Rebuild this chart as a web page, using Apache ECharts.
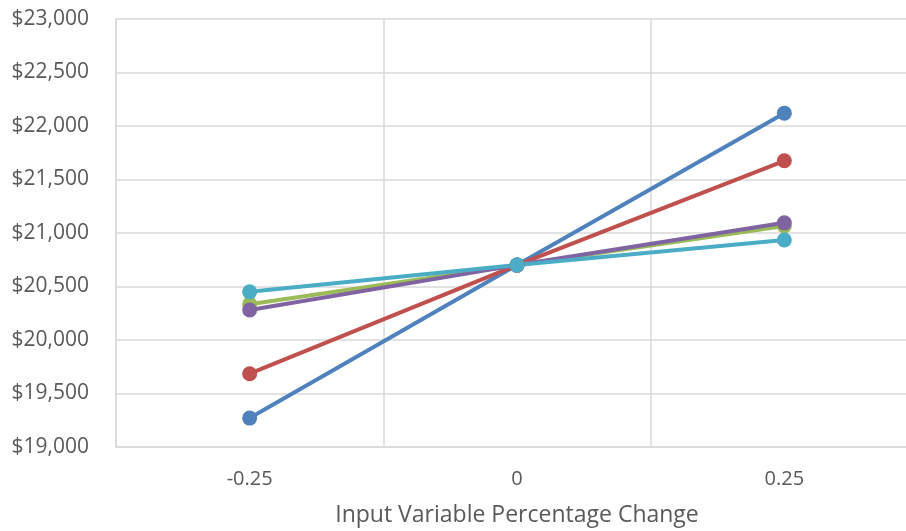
<!DOCTYPE html>
<html>
<head>
<meta charset="utf-8">
<script src="https://cdn.jsdelivr.net/npm/echarts@6/dist/echarts.min.js"></script>
<style>
  html, body { margin: 0; padding: 0; background: #fff; }
  #main { width: 906px; height: 531px; }
</style>
</head>
<body>
<div id="main"></div>
<script>
var myChart = echarts.init(document.getElementById('main'));

var categories = ['-0.25', '0', '0.25'];
var blueData = [19270, 20700, 22120];
var redData = [19685, 20700, 21675];
var greenData = [20335, 20700, 21065];
var purpleData = [20280, 20700, 21095];
var cyanData = [20450, 20700, 20935];

var colors = ['#4f81bd', '#c0504d', '#9bbb59', '#8064a2', '#4bacc6'];
var seriesData = [blueData, redData, greenData, purpleData, cyanData];

var series = [];
for (var i = 0; i < seriesData.length; i++) {
	series.push({
		type: 'line',
		data: seriesData[i],
		symbol: 'circle',
		symbolSize: 15,
		lineStyle: { width: 4, color: colors[i] },
		itemStyle: { color: colors[i] },
		animation: false
	});
}

option = {
	grid: {
		left: 116,
		width: 802,
		top: 19,
		bottom: 84,
		outerBoundsMode: 'none',
		containLabel: false
	},
	xAxis: {
		type: 'category',
		data: categories,
		boundaryGap: true,
		name: 'Input Variable Percentage Change',
		nameLocation: 'middle',
		nameGap: 57,
		nameTextStyle: {
			fontFamily: 'Open Sans',
			fontSize: 23,
			color: '#595959'
		},
		axisLine: { lineStyle: { color: '#d9d9d9', width: 1.5 } },
		axisTick: { show: false },
		axisLabel: {
			fontFamily: 'Open Sans',
			fontSize: 20,
			color: '#595959',
			margin: 22
		},
		splitLine: { show: true, lineStyle: { color: '#d9d9d9', width: 1.5 } }
	},
	yAxis: {
		type: 'value',
		min: 19000,
		max: 23000,
		interval: 500,
		axisLine: { show: true, lineStyle: { color: '#d9d9d9', width: 1.5 } },
		axisTick: { show: false },
		axisLabel: {
			fontFamily: 'Open Sans',
			fontSize: 21,
			color: '#595959',
			margin: 27,
			formatter: function (v) {
				return '$' + v.toLocaleString('en-US');
			}
		},
		splitLine: { lineStyle: { color: '#d9d9d9', width: 1.5 } }
	},
	series: series
};

myChart.setOption(option);
window.onresize = myChart.resize;
</script>
</body>
</html>
